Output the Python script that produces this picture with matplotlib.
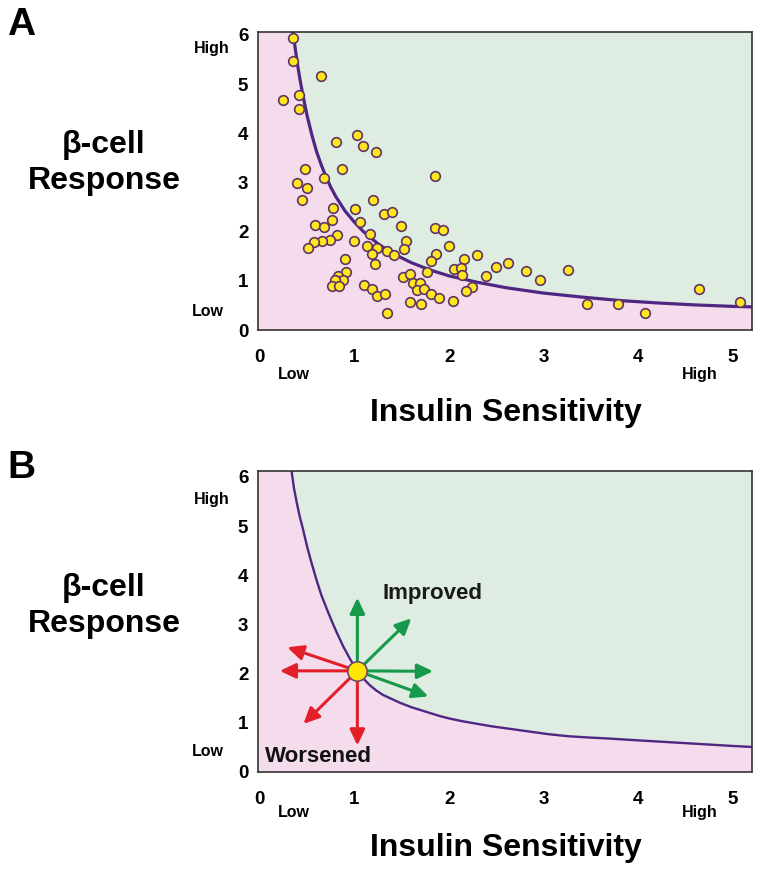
import numpy as np
import matplotlib
matplotlib.use("Agg")
import matplotlib.pyplot as plt

plt.rcParams["font.family"] = ["Liberation Sans", "DejaVu Sans"]
plt.rcParams["font.weight"] = "bold"

# panel A: subjects (insulin sensitivity, beta-cell response)
subj_x = [0.352, 0.352, 0.645, 0.240, 0.409, 0.409, 1.022, 0.807, 1.089, 1.226,
          0.476, 0.867, 0.680, 1.850, 0.388, 0.494, 0.447, 1.195, 0.768, 1.001,
          1.314, 1.395, 0.761, 1.060, 0.581, 0.677, 1.487, 1.850, 1.931, 0.811,
          1.163, 0.743, 0.655, 0.574, 0.511, 0.997, 1.543, 1.525, 1.134, 1.234,
          1.181, 1.346, 1.420, 1.998, 1.864, 1.808, 2.294, 2.153, 0.899, 1.219,
          2.054, 2.128, 2.135, 1.765, 2.495, 2.625, 2.389, 0.906, 0.821, 0.881,
          0.790, 0.758, 0.838, 1.103, 1.184, 1.234, 1.318, 1.515, 1.586, 1.621,
          1.691, 1.656, 1.737, 1.808, 1.892, 2.037, 2.238, 2.178, 1.586, 1.702,
          1.339, 2.809, 2.960, 3.253, 3.457, 3.784, 4.073, 4.641, 5.071]
subj_y = [5.91, 5.45, 5.14, 4.66, 4.75, 4.47, 3.95, 3.80, 3.72, 3.59,
          3.26, 3.25, 3.07, 3.12, 2.96, 2.87, 2.62, 2.62, 2.46, 2.44,
          2.34, 2.38, 2.22, 2.17, 2.11, 2.08, 2.09, 2.06, 2.01, 1.92,
          1.94, 1.81, 1.80, 1.76, 1.65, 1.80, 1.78, 1.63, 1.69, 1.65,
          1.53, 1.59, 1.50, 1.69, 1.52, 1.39, 1.51, 1.42, 1.42, 1.33,
          1.22, 1.25, 1.10, 1.16, 1.26, 1.34, 1.08, 1.15, 1.08, 0.99,
          1.00, 0.88, 0.87, 0.89, 0.81, 0.68, 0.71, 1.05, 1.12, 0.93,
          0.93, 0.80, 0.81, 0.71, 0.64, 0.56, 0.85, 0.77, 0.55, 0.51,
          0.33, 1.17, 1.00, 1.19, 0.50, 0.51, 0.33, 0.81, 0.55]

# hyperbola
curve_a_x = [0.35, 0.375, 0.40, 0.425, 0.45, 0.5, 0.55, 0.6, 0.65, 0.7, 0.75, 0.8,
             0.9, 1.0, 1.1, 1.25, 1.4, 1.6, 1.8, 2.0, 2.3, 2.6, 3.0, 3.4, 3.8,
             4.2, 4.6, 5.0, 5.2]
curve_a_y = [6.04, 5.68, 5.35, 5.06, 4.80, 4.33, 3.94, 3.60, 3.33, 3.09, 2.88, 2.70,
             2.40, 2.17, 1.97, 1.73, 1.54, 1.35, 1.20, 1.08, 0.95, 0.84, 0.73, 0.65,
             0.58, 0.53, 0.49, 0.46, 0.45]
curve_b_x = [0.335, 0.36, 0.39, 0.42, 0.455, 0.5, 0.55, 0.6, 0.65, 0.705, 0.76, 0.81,
             0.88, 0.95, 1.02, 1.09, 1.16, 1.23, 1.3, 1.39, 1.48, 1.6, 1.75, 1.9,
             2.0, 2.15, 2.3, 2.45, 2.6, 2.75, 2.9, 3.05, 3.25, 3.45, 3.7, 3.95,
             4.3, 4.65, 5.0, 5.2]
curve_b_y = [6.10, 5.75, 5.45, 5.18, 4.92, 4.55, 4.20, 3.87, 3.57, 3.30, 3.04, 2.82,
             2.53, 2.28, 2.06, 1.88, 1.74, 1.63, 1.54, 1.46, 1.38, 1.29, 1.20, 1.11,
             1.06, 1.00, 0.95, 0.90, 0.86, 0.82, 0.78, 0.74, 0.70, 0.675, 0.65, 0.62,
             0.58, 0.54, 0.50, 0.48]

# panel B: one subject and the directions it can move
dot = (1.03, 2.03)
better_tips = [(1.03, 3.52), (1.60, 3.10), (1.83, 2.02), (1.78, 1.51)]
worse_tips = [(1.03, 0.51), (0.46, 0.95), (0.21, 2.03), (0.29, 2.51)]

x_ticks = [0, 1, 2, 3, 4, 5]
y_ticks = [0, 1, 2, 3, 4, 5, 6]

PINK = "#f5dcec"
GREEN = "#deece2"
CURVE = "#4f2783"
W, H = 760, 870


def fx(px):
    return px / W


def fy(py):
    return 1 - py / H


def setup(ax, cx, cy, ylim, lw):
    ax.set_xlim(-0.02, 5.2)
    ax.set_ylim(*ylim)
    ax.set_facecolor(PINK)
    ax.fill_between(cx, cy, ylim[1], color=GREEN, lw=0, zorder=0.5)
    ax.plot(cx, cy, color=CURVE, lw=lw, zorder=2, solid_capstyle="butt")
    ax.set_xticks(x_ticks)
    ax.set_yticks(y_ticks)
    ax.tick_params(length=0, labelsize=13.5)
    ax.tick_params(axis="x", pad=13)
    ax.tick_params(axis="y", pad=7)
    for lab in ax.get_xticklabels() + ax.get_yticklabels():
        lab.set_fontweight("bold")
    for s in ax.spines.values():
        s.set_color("#333333")
        s.set_linewidth(1.2)


fig = plt.figure(figsize=(7.6, 8.7), dpi=100)
ax_a = fig.add_axes([fx(258), fy(331), fx(752) - fx(258), fy(33) - fy(331)])
ax_b = fig.add_axes([fx(258), fy(773), fx(752) - fx(258), fy(472) - fy(773)])

setup(ax_a, curve_a_x, curve_a_y, (-0.02, 6.04), 2.3)
ax_a.scatter(subj_x, subj_y, s=48, c="#ffe61e", edgecolors="#5e3566",
             linewidths=1.2, zorder=3, clip_on=False)

setup(ax_b, curve_b_x, curve_b_y, (-0.03, 6.1), 1.7)
for tips, col in [(better_tips, "#16994a"), (worse_tips, "#e3202a")]:
    for tx, ty in tips:
        ax_b.annotate("", xy=(tx, ty), xytext=dot,
                      arrowprops=dict(arrowstyle="-|>,head_length=0.95,head_width=0.45",
                                      color=col, lw=2.2, shrinkA=0, shrinkB=0),
                      zorder=3)
ax_b.plot(*dot, "o", ms=14, mfc="#ffe600", mec="#6a4c6e", mew=1.2, zorder=4)
ax_b.text(1.30, 3.63, "Improved", fontsize=16, fontweight="bold", va="center",
          ha="left", color="#1a1a1a")
ax_b.text(0.05, 0.30, "Worsened", fontsize=16, fontweight="bold", va="center",
          ha="left", color="#111111")

# panel letters and axis captions
fig.text(fx(7), fy(25), "A", fontsize=28, fontweight="bold", va="center")
fig.text(fx(7), fy(468), "B", fontsize=28, fontweight="bold", va="center")

for cy, hy, ly, xcap, xlh in [(163, 48, 312, 413, 375), (606, 500, 752, 848, 813)]:
    fig.text(fx(104), fy(cy), "β-cell\nResponse", fontsize=23, fontweight="bold",
             ha="center", va="center", linespacing=1.25)
    fig.text(fx(230), fy(hy), "High", fontsize=11.5, fontweight="bold",
             ha="right", va="center")
    fig.text(fx(224), fy(ly), "Low", fontsize=11.5, fontweight="bold",
             ha="right", va="center")
    fig.text(fx(506), fy(xcap), "Insulin Sensitivity", fontsize=23,
             fontweight="bold", ha="center", va="center")
    fig.text(fx(294), fy(xlh), "Low", fontsize=11.5, fontweight="bold",
             ha="center", va="center")
    fig.text(fx(700), fy(xlh), "High", fontsize=11.5, fontweight="bold",
             ha="center", va="center")

fig.savefig("out.png", dpi=100, facecolor="white")
